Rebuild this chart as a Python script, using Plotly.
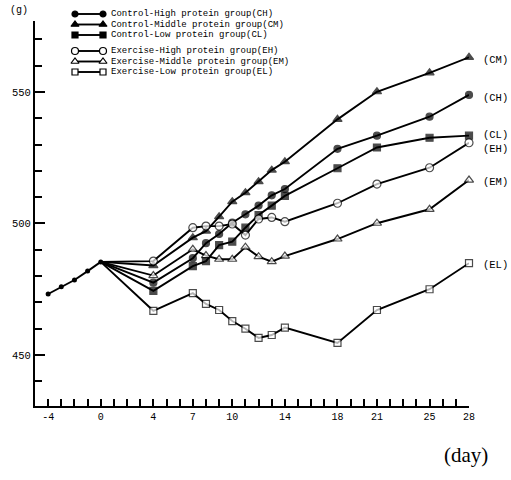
import plotly.graph_objects as go

# ---- data ----
days_pre = [-4, -3, -2, -1, 0]
weight_pre = [473.2, 475.9, 478.5, 481.9, 485.4]

days = [4, 7, 8, 9, 10, 11, 12, 13, 14, 18, 21, 25, 28]
ch = [477.5, 486.8, 492.5, 496.0, 500.3, 503.5, 506.8, 510.7, 513.1, 528.4, 533.4, 540.6, 548.9]
cm = [484.0, 494.6, 497.1, 502.6, 508.3, 511.7, 515.9, 520.3, 523.5, 539.6, 550.1, 557.3, 563.2]
cl = [474.4, 483.8, 485.7, 491.8, 493.1, 498.4, 503.2, 506.8, 510.5, 521.0, 528.9, 532.6, 533.4]
eh = [485.7, 498.4, 499.0, 499.0, 499.8, 495.6, 501.7, 502.3, 500.7, 507.7, 515.0, 521.2, 530.7]
em = [480.2, 490.2, 487.8, 486.4, 486.4, 491.0, 487.4, 485.5, 487.6, 494.1, 500.1, 505.4, 516.5]
el = [466.8, 473.5, 469.4, 467.1, 462.9, 460.0, 456.5, 457.6, 460.4, 454.6, 467.1, 475.0, 484.9]

legend_names = [
    "Control-High protein group(CH)",
    "Control-Middle protein group(CM)",
    "Control-Low protein group(CL)",
    "Exercise-High protein group(EH)",
    "Exercise-Middle protein group(EM)",
    "Exercise-Low protein group(EL)",
]
end_labels = ["(CH)", "(CM)", "(CL)", "(EH)", "(EM)", "(EL)"]
x_tickvals = [-4, 0, 4, 7, 10, 14, 18, 21, 25, 28]
y_tickvals = [450, 500, 550]

series = [ch, cm, cl, eh, em, el]

# ---- styles ----
styles = [
    dict(symbol="circle", size=7, color="black"),
    dict(symbol="triangle-up", size=8, color="black"),
    dict(symbol="square", size=7, color="black"),
    dict(symbol="circle", size=8, color="white"),
    dict(symbol="triangle-up", size=8, color="white"),
    dict(symbol="square", size=7, color="white"),
]
label_yshift = [-3, -3, 1, -6, -2, -2]
legend_rows = [14, 24.5, 35, 51, 61.5, 72]

L, R, T, B = 35, 469, 5, 406
W, H = R - L, B - T


def px(x):
    return (x - L) / W


def py(y):
    return (B - y) / H


mono = "Liberation Mono, Courier New, monospace"

fig = go.Figure()

for vals, st in zip(series, styles):
    fig.add_trace(go.Scatter(
        x=[days_pre[-1]] + days,
        y=[weight_pre[-1]] + vals,
        mode="lines+markers",
        line=dict(color="black", width=1.9),
        marker=dict(symbol=st["symbol"], size=[0] + [st["size"]] * len(days),
                    color=st["color"], line=dict(color="black", width=1.2)),
        showlegend=False, cliponaxis=False,
    ))

fig.add_trace(go.Scatter(
    x=days_pre, y=weight_pre, mode="lines+markers",
    line=dict(color="black", width=1.9),
    marker=dict(symbol="circle", size=5, color="black"),
    showlegend=False, cliponaxis=False,
))

# custom legend glyphs on a pixel-scaled overlay axis
for row, st in zip(legend_rows, styles):
    fig.add_trace(go.Scatter(
        x=[75, 103], y=[row, row], xaxis="x2", yaxis="y2",
        mode="lines+markers",
        line=dict(color="black", width=1.9),
        marker=dict(symbol=st["symbol"], size=st["size"] - 1, color=st["color"],
                    line=dict(color="black", width=1.2)),
        showlegend=False, cliponaxis=False,
    ))

annotations = []
for row, name in zip(legend_rows, legend_names):
    annotations.append(dict(
        x=px(109), y=py(row), xref="paper", yref="paper", text=name,
        showarrow=False, xanchor="left", yanchor="middle",
        font=dict(family=mono, size=9, color="black"),
    ))

for vals, lab, ys in zip(series, end_labels, label_yshift):
    annotations.append(dict(
        x=days[-1], y=vals[-1], xref="x", yref="y", text=lab,
        showarrow=False, xanchor="left", yanchor="middle", xshift=12, yshift=ys,
        font=dict(family=mono, size=10.5, color="black"),
    ))

annotations.append(dict(
    x=px(19), y=py(11), xref="paper", yref="paper", text="(g)",
    showarrow=False, xanchor="center", yanchor="middle",
    font=dict(family=mono, size=10, color="black"),
))
annotations.append(dict(
    x=px(466), y=py(455), xref="paper", yref="paper", text="(day)",
    showarrow=False, xanchor="center", yanchor="middle",
    font=dict(family="Liberation Serif, Times New Roman, serif", size=21, color="black"),
))

ydom_top = (B - 21) / H

fig.update_layout(
    width=511, height=480,
    margin=dict(l=L, r=511 - R, t=T, b=480 - B),
    paper_bgcolor="white", plot_bgcolor="rgba(0,0,0,0)",
    annotations=annotations,
    xaxis=dict(
        range=[-5, 28], domain=[0, 1], anchor="y",
        tickmode="array", tickvals=x_tickvals, ticktext=[str(v) for v in x_tickvals],
        ticks="inside", ticklen=7, tickwidth=1.5, tickcolor="black",
        minor=dict(dtick=1, tick0=0, ticks="inside", ticklen=7, tickwidth=1.5, tickcolor="black"),
        showline=True, linewidth=2, linecolor="black",
        showgrid=False, zeroline=False,
        tickfont=dict(family=mono, size=10, color="black"),
    ),
    yaxis=dict(
        range=[430.6, 577], domain=[0, ydom_top], anchor="x",
        tickmode="array", tickvals=y_tickvals, ticktext=[str(v) for v in y_tickvals],
        ticks="inside", ticklen=10, tickwidth=1.5, tickcolor="black",
        minor=dict(dtick=10, tick0=440, ticks="inside", ticklen=7, tickwidth=1.5, tickcolor="black"),
        showline=True, linewidth=2, linecolor="black",
        showgrid=False, zeroline=False,
        tickfont=dict(family=mono, size=10.5, color="black"),
    ),
    xaxis2=dict(range=[L, R], domain=[0, 1], anchor="y2", visible=False, fixedrange=True),
    yaxis2=dict(range=[B, T], domain=[0, 1], anchor="x2", visible=False, fixedrange=True),
)

fig.write_html(
    "out.html",
    config={"displayModeBar": False},
    post_script="document.body.style.margin='0';document.body.style.overflow='hidden';",
)
